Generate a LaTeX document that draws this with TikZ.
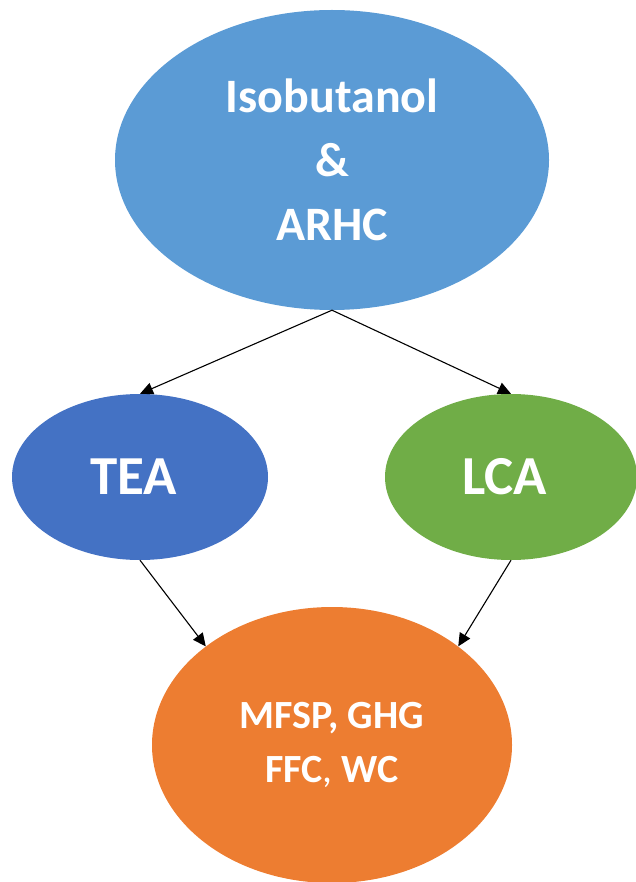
\documentclass[tikz,border=0pt]{standalone}
\usepackage{fontspec}
\setmainfont{Carlito}
\usetikzlibrary{shapes.geometric,arrows.meta}

\definecolor{topblue}{HTML}{5B9BD5}
\definecolor{teablue}{HTML}{4472C4}
\definecolor{lcagreen}{HTML}{70AD47}
\definecolor{resorange}{HTML}{ED7D31}

\tikzset{
    blob/.style={ellipse, inner sep=0pt, text=white, font=\bfseries, align=center},
    link/.style={line width=1.1pt, -{Triangle[length=13pt,width=12pt]}}
}

\begin{document}
\begin{tikzpicture}[x=1pt,y=-1pt]
            \useasboundingbox (0, 0) rectangle (636, 882);

            \node[blob, fill=topblue, minimum width=434, minimum height=300,
                font=\fontsize{48}{64}\selectfont\bfseries] (goal) at (332, 160)
                { Isobutanol\\ \&\\ ARHC };

            \node[blob, fill=teablue, minimum width=256, minimum height=166,
                font=\fontsize{55}{60}\selectfont\bfseries] (tea) at (140, 477) { TEA };
            \node[blob, fill=lcagreen, minimum width=252, minimum height=166,
                font=\fontsize{55}{60}\selectfont\bfseries] (lca) at (511, 477) { LCA };

            \node[blob, fill=resorange, minimum width=360, minimum height=276,
                font=\fontsize{40}{54}\selectfont\bfseries] (res) at (332, 745)
                { MFSP, GHG\\ FFC{\mdseries,} WC };

            \draw[link] (goal.south) -- (tea.north);
            \draw[link] (goal.south) -- (lca.north);

            \draw[link] (tea.south) -- (res.142);
            \draw[link] (lca.south) -- (res.38);
\end{tikzpicture}
\end{document}
